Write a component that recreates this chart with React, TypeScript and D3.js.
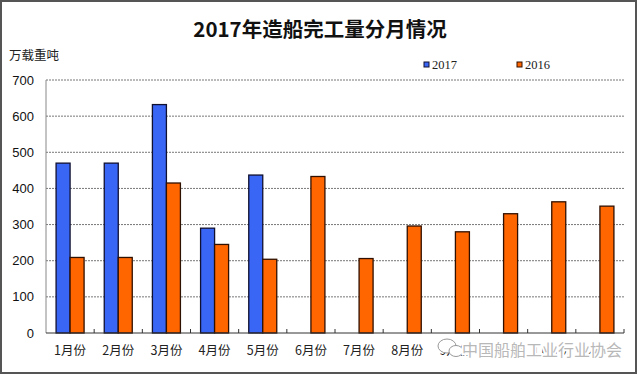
import React from "react";
import * as d3 from "d3";

const months = ["1月份", "2月份", "3月份", "4月份", "5月份", "6月份", "7月份", "8月份", "9月份", "10月份", "11月份", "12月份"];
const seriesNames = ["2017", "2016"];
const values2017: (number | null)[] = [470, 470, 632, 290, 437, null, null, null, null, null, null, null];
const values2016: number[] = [209, 209, 415, 245, 204, 433, 206, 296, 280, 330, 363, 351];
const yTicks = [0, 100, 200, 300, 400, 500, 600, 700];
const colors = ["#3a66f5", "#ff6600"];
const strokes = ["#101030", "#301000"];

const W = 640, H = 375;
const L = 46, R = 624, T = 80, B = 333;

export default function App() {
  const x = d3.scaleBand<string>().domain(months).range([L, R]).paddingInner(0).paddingOuter(0);
  const x1 = d3.scaleBand<string>().domain(seriesNames).range([0, x.bandwidth()]).paddingInner(0).paddingOuter(0.72);
  const y = d3.scaleLinear().domain([0, 700]).range([B, T]);
  const data = [values2017, values2016];
  const boundaries = months.map((m) => (x(m) as number) + x.bandwidth()).slice(0, -1);

  return (
    <div style={{ position: "fixed", left: 0, top: 0 }}>
      <svg width={W} height={H} style={{ display: "block", background: "#fff" }}>
        <rect x={1} y={1} width={635} height={372} fill="#fff" stroke="#555" strokeWidth={2} />
        <text x={320} y={37} textAnchor="middle" fontFamily="'Noto Sans CJK SC', sans-serif" fontWeight="bold" fontSize={20.5} fill="#111">
          2017年造船完工量分月情况
        </text>
        <text x={9} y={60} fontFamily="'Noto Sans CJK SC', sans-serif" fontSize={12.5} fill="#222">万载重吨</text>
        {/* legend */}
        {seriesNames.map((s, i) => {
          const lx = i === 0 ? 424 : 517;
          return (
            <g key={s}>
              <rect x={lx} y={62} width={5} height={5} fill={colors[i]} stroke={strokes[i]} strokeWidth={1} />
              <text x={lx + 8} y={69} fontFamily="'Liberation Serif', serif" fontSize={12.5} fill="#222">{s}</text>
            </g>
          );
        })}
        {/* gridlines */}
        {yTicks.filter((t) => t > 0).map((t) => (
          <line key={t} x1={L} x2={R} y1={y(t)} y2={y(t)} stroke="#777" strokeWidth={1} strokeDasharray="2 1" />
        ))}
        {/* y labels */}
        {yTicks.map((t) => (
          <text key={t} x={34} y={y(t) + 4.5} textAnchor="end" fontFamily="'Liberation Sans', Arial, sans-serif" fontSize={13} fill="#111">{t}</text>
        ))}
        {/* bars */}
        {data.map((vals, si) =>
          vals.map((v, i) =>
            v == null ? null : (
              <rect
                key={si + "-" + i}
                x={(x(months[i]) as number) + (x1(seriesNames[si]) as number)}
                y={y(v)}
                width={x1.bandwidth()}
                height={B - y(v)}
                fill={colors[si]}
                stroke={strokes[si]}
                strokeWidth={1.3}
              />
            )
          )
        )}
        {/* axes */}
        <line x1={L} x2={L} y1={T} y2={B} stroke="#888" strokeWidth={1} />
        <line x1={L} x2={R} y1={B} y2={B} stroke="#333" strokeWidth={1} />
        {boundaries.map((bx, i) => (
          <line key={i} x1={bx} x2={bx} y1={B} y2={B - 4} stroke="#333" strokeWidth={1} />
        ))}
        <line x1={R} x2={R} y1={B} y2={B - 4} stroke="#333" strokeWidth={1} />
        {/* x labels */}
        {months.map((m) => (
          <text key={m} x={(x(m) as number) + x.bandwidth() / 2} y={355} textAnchor="middle" fontFamily="'Noto Sans CJK SC', serif" fontSize={12.5} fill="#222">{m}</text>
        ))}
        {/* watermark */}
        <g>
          <ellipse cx={447} cy={346} rx={9} ry={7} fill="#fff" stroke="#999" strokeWidth={1} />
          <ellipse cx={456} cy={351} rx={7} ry={5.5} fill="#fff" stroke="#999" strokeWidth={1} />
          <text x={462} y={356} fontFamily="'Noto Sans CJK SC', sans-serif" fontSize={16} fill="#b8b8b8" stroke="#fff" strokeWidth={4} style={{ paintOrder: "stroke" }}>
            中国船舶工业行业协会
          </text>
        </g>
      </svg>
    </div>
  );
}
